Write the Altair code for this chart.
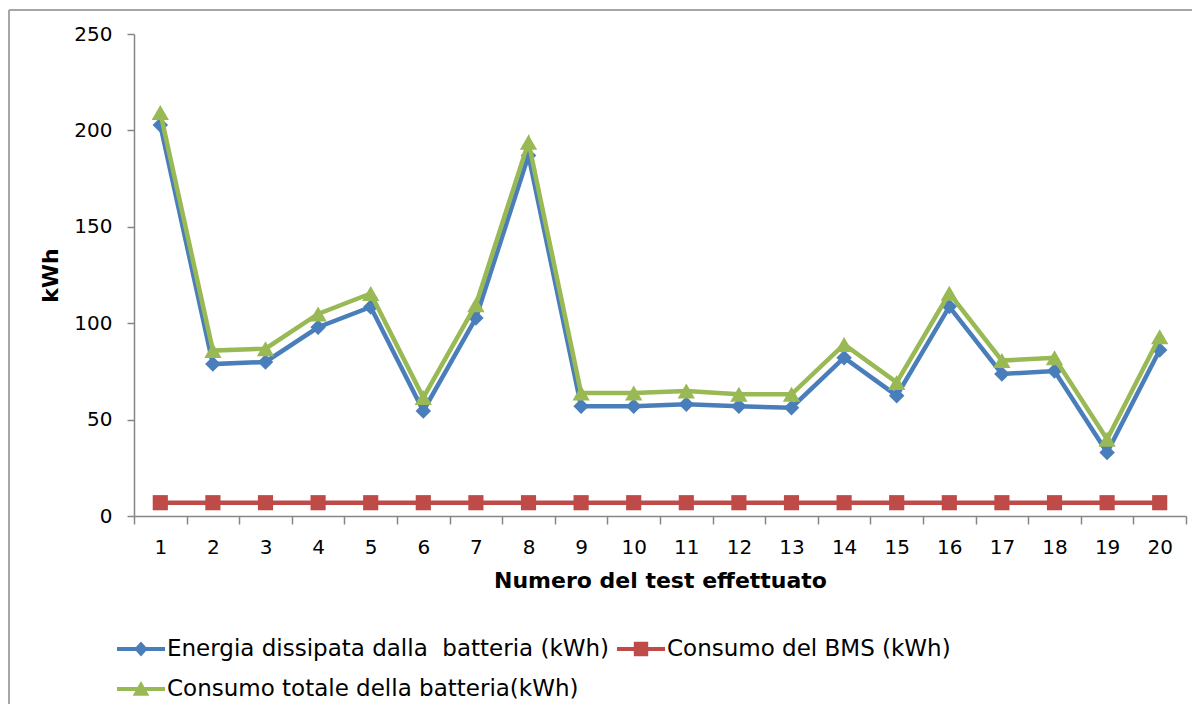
import altair as alt
import pandas as pd

tests = [str(i) for i in range(1, 21)]
energia = [202.8, 78.8, 79.9, 97.9, 108.4, 54.5, 102.7, 187.0, 56.9, 56.9,
           57.9, 56.9, 56.2, 82.1, 62.4, 108.6, 73.7, 75.2, 32.9, 86.1]
bms = [6.9] * 20
totale = [209.3, 85.8, 86.8, 104.8, 115.4, 61.4, 109.6, 193.9, 63.8, 63.8,
          64.8, 63.2, 63.1, 89.0, 69.3, 115.5, 80.6, 82.1, 39.8, 93.0]

series_names = ["Energia dissipata dalla\u00a0 batteria (kWh)",
                "Consumo del BMS (kWh)",
                "Consumo totale della batteria(kWh)"]
colors = ["#4A7EBB", "#BE4B48", "#98B954"]
shapes = ["diamond", "square", "triangle-up"]
sizes = [240, 230, 300]

rows = []
for name, vals in zip(series_names, [energia, bms, totale]):
    for t, v in zip(tests, vals):
        rows.append({"test": t, "value": v, "series": name})
df = pd.DataFrame(rows)

W, H = 1052, 482
PAD_L, PAD_T = 126, 26

x_enc = alt.X("test:O", sort=tests,
              scale=alt.Scale(type="band", paddingInner=0, paddingOuter=0),
              axis=alt.Axis(title="Numero del test effettuato", labelAngle=0,
                            tickBand="extent", tickSize=8, labelPadding=13,
                            titlePadding=13, titleFontSize=22, grid=False))
y_enc = alt.Y("value:Q", scale=alt.Scale(domain=[0, 250], nice=False),
              axis=alt.Axis(title="kWh", values=[0, 50, 100, 150, 200, 250],
                            tickSize=7, labelPadding=15, titlePadding=11,
                            titleFontSize=22, grid=False))

base = alt.Chart(df)
layers = []
for name, col, shp, sz in zip(series_names, colors, shapes, sizes):
    sub = base.transform_filter(alt.datum.series == name)
    layers.append(sub.mark_line(color=col, strokeWidth=4.5).encode(x=x_enc, y=y_enc))
    layers.append(sub.mark_point(color=col, filled=True, opacity=1, shape=shp, size=sz)
                  .encode(x=x_enc, y=y_enc))

bar = "M-1.5,-0.13H1.5V0.13H-1.5Z"
leg_paths = [bar + "M0,-0.47L0.42,0L0,0.47L-0.42,0Z",
             bar + "M-0.45,-0.45H0.45V0.45H-0.45Z",
             bar + "M-0.52,0.42L0,-0.5L0.52,0.42Z"]
# legend is laid out column-major: order so that row 1 = series 1, 2 and row 2 = series 3
leg_order = [0, 2, 1]
leg_domain = [series_names[i] for i in leg_order]
leg_colors = [colors[i] for i in leg_order]
leg_shapes = [leg_paths[i] for i in leg_order]

legend = alt.Legend(title=None, orient="none", legendX=-9, legendY=599,
                    columns=2, columnPadding=7, rowPadding=12,
                    symbolSize=1024, symbolOpacity=1, labelOffset=10,
                    labelFont="DejaVu Sans", labelFontSize=23,
                    labelColor="#000000", labelLimit=0, padding=0,
                    symbolStrokeWidth=0)
leg_layer = base.transform_filter("false").mark_point(filled=True, opacity=1).encode(
    x=x_enc, y=y_enc,
    color=alt.Color("series:N", sort=leg_domain,
                    scale=alt.Scale(domain=leg_domain, range=leg_colors), legend=legend),
    shape=alt.Shape("series:N", sort=leg_domain,
                    scale=alt.Scale(domain=leg_domain, range=leg_shapes), legend=legend),
)
layers.append(leg_layer)

border = alt.Chart(pd.DataFrame({"k": [0]}))
top_line = border.mark_rule(color="#A6A6A6", strokeWidth=2, clip=False).encode(
    x=alt.value(-PAD_L + 1), x2=alt.value(W + 60), y=alt.value(-24), y2=alt.value(-24))
left_line = border.mark_rule(color="#A6A6A6", strokeWidth=2, clip=False).encode(
    x=alt.value(-PAD_L + 1), x2=alt.value(-PAD_L + 1), y=alt.value(-24), y2=alt.value(H + 200))
layers += [top_line, left_line]

chart = alt.layer(*layers).properties(
    width=W, height=H,
    background="white",
    autosize=alt.AutoSizeParams(type="none"),
    padding={"left": PAD_L, "top": PAD_T, "right": 6, "bottom": 188},
).configure_view(stroke=None).configure_axis(
    domainColor="#868686", tickColor="#868686", domainWidth=1.5, tickWidth=1.5,
    labelFont="DejaVu Sans", labelFontSize=20, labelColor="#000000",
    titleFont="DejaVu Sans", titleFontWeight="bold",
    titleColor="#000000",
)

chart.save("out.html", embed_options={"renderer": "svg", "actions": False})
